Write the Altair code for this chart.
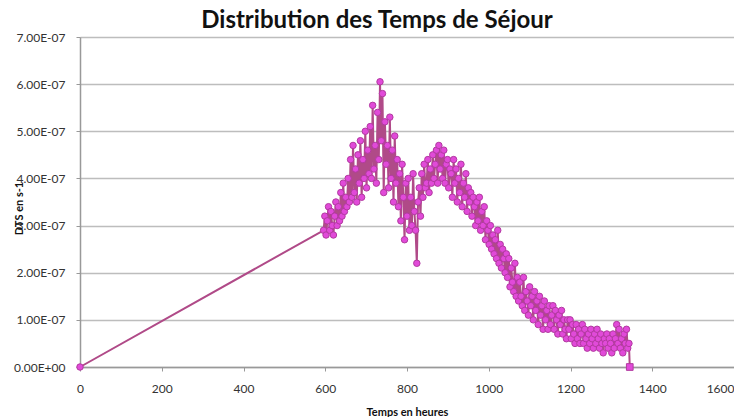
import altair as alt
import pandas as pd

# Temps en heures (x) and DTS in units of 1e-7 s-1 (y)
HOURS = [
    0,
    596, 599, 602, 605, 608, 611, 614, 617, 620, 623,
    626, 629, 632, 635, 638, 641, 644, 647, 650, 653,
    656, 659, 662, 665, 668, 671, 674, 677, 680, 683,
    686, 689, 692, 695, 698, 701, 704, 707, 710, 713,
    716, 719, 722, 725, 728, 731, 734, 737, 740, 743,
    746, 749, 752, 755, 758, 761, 764, 767, 770, 773,
    776, 779, 782, 785, 788, 791, 794, 797, 800, 803,
    806, 809, 812, 815, 818, 821, 824, 827, 830, 833,
    836, 839, 842, 845, 848, 851, 854, 857, 860, 863,
    866, 869, 872, 875, 878, 881, 884, 887, 890, 893,
    896, 899, 902, 905, 908, 911, 914, 917, 920, 923,
    926, 929, 932, 935, 938, 941, 944, 947, 950, 953,
    956, 959, 962, 965, 968, 971, 974, 977, 980, 983,
    986, 989, 992, 995, 998, 1001, 1004, 1007, 1010, 1013,
    1016, 1019, 1022, 1025, 1028, 1031, 1034, 1037, 1040, 1043,
    1046, 1049, 1052, 1055, 1058, 1061, 1064, 1067, 1070, 1073,
    1076, 1079, 1082, 1085, 1088, 1091, 1094, 1097, 1100, 1103,
    1106, 1109, 1112, 1115, 1118, 1121, 1124, 1127, 1130, 1133,
    1136, 1139, 1142, 1145, 1148, 1151, 1154, 1157, 1160, 1163,
    1166, 1169, 1172, 1175, 1178, 1181, 1184, 1187, 1190, 1193,
    1196, 1199, 1202, 1205, 1208, 1211, 1214, 1217, 1220, 1223,
    1226, 1229, 1232, 1235, 1238, 1241, 1244, 1247, 1250, 1253,
    1256, 1259, 1262, 1265, 1268, 1271, 1274, 1277, 1280, 1283,
    1286, 1289, 1292, 1295, 1298, 1301, 1304, 1307, 1310, 1313,
    1316, 1319, 1322, 1325, 1328, 1331, 1334, 1337, 1340, 1343,
    1345,
]

DTS = [
    0.0,
    2.9, 3.2, 2.8, 3.1, 3.4, 2.9, 3.3, 3.0, 2.8, 3.2,
    3.5, 3.0, 3.4, 3.1, 3.7, 3.2, 3.9, 3.3, 3.6, 3.4,
    4.0, 3.5, 4.4, 3.6, 4.7, 3.7, 4.2, 3.5, 4.5, 3.9,
    4.8, 3.6, 4.4, 4.0, 5.0, 3.8, 4.6, 4.1, 5.1, 4.0,
    5.55, 4.2, 4.7, 3.9, 5.4, 4.4, 6.05, 4.8, 5.8, 3.7,
    5.2, 4.3, 4.7, 3.8, 5.3, 4.0, 4.6, 3.5, 4.9, 3.9,
    4.4, 3.4, 4.1, 3.1, 4.3, 3.6, 2.7, 3.9, 3.2, 4.0,
    2.9, 3.6, 3.0, 4.1, 3.3, 2.9, 2.2, 3.5, 3.8, 3.2,
    4.1, 3.6, 4.3, 3.8, 3.9, 4.4, 3.7, 4.2, 3.9, 4.5,
    4.0, 4.3, 4.6, 3.9, 4.7, 4.2, 4.5, 4.0, 4.6, 3.9,
    4.3, 4.4, 3.8, 4.2, 4.1, 3.6, 4.4, 3.9, 4.2, 3.5,
    4.0, 3.7, 4.3, 3.4, 3.9, 3.6, 4.1, 3.3, 3.8, 3.5,
    3.7, 3.2, 3.6, 3.4, 3.0, 3.5, 3.1, 3.6, 2.9, 3.3,
    3.0, 3.4, 2.7, 3.1, 2.9, 2.6, 3.0, 2.5, 2.8, 2.4,
    2.7, 2.3, 2.9, 2.2, 2.6, 2.1, 2.5, 2.3, 2.0, 2.4,
    1.9, 2.3, 1.7, 2.1, 1.8, 1.6, 2.2, 1.5, 1.9, 1.4,
    1.8, 1.5, 1.3, 1.9, 1.2, 1.6, 1.4, 1.1, 1.7, 1.3,
    1.5, 1.0, 1.6, 1.2, 1.4, 0.9, 1.5, 1.1, 1.3, 0.8,
    1.4, 1.0, 1.2, 0.8, 1.3, 0.9, 1.1, 1.3, 0.8, 1.2,
    1.0, 0.7, 1.1, 0.9, 1.2, 0.7, 1.0, 0.8, 0.6, 1.0,
    0.8, 1.0, 0.6, 0.9, 0.7, 0.5, 0.9, 0.6, 0.8, 0.5,
    0.7, 0.9, 0.5, 0.8, 0.6, 0.4, 0.7, 0.5, 0.8, 0.6,
    0.4, 0.7, 0.5, 0.8, 0.6, 0.4, 0.7, 0.5, 0.3, 0.6,
    0.5, 0.7, 0.4, 0.6, 0.5, 0.3, 0.7, 0.4, 0.6, 0.9,
    0.5, 0.8, 0.4, 0.6, 0.3, 0.7, 0.5, 0.8, 0.4, 0.5,
    0.0,
]

X_TICKS = [0, 200, 400, 600, 800, 1000, 1200, 1400, 1600]
Y_TICKS = [0, 1, 2, 3, 4, 5, 6, 7]

df = pd.DataFrame({"h": HOURS, "v": DTS})
LAST_H = HOURS[-1]

FONT = "Lato"

base = alt.Chart(df).encode(
    x=alt.X(
        "h:Q",
        scale=alt.Scale(domain=[0, 1600], nice=False, zero=True),
        axis=alt.Axis(
            values=X_TICKS,
            format="d",
            grid=False,
            labelFlush=False,
            labelOverlap=False,
            labelAlign=alt.expr("datum.value == 1600 ? 'right' : 'center'"),
            tickSize=4,
            tickColor="#999999",
            domainColor="#999999",
            domainWidth=1.5,
            labelFont=FONT,
            labelFontSize=12,
            labelColor="#333333",
            labelPadding=12,
            title="Temps en heures",
            titleFont=FONT,
            titleFontSize=11,
            titleFontWeight="bold",
            titleColor="#111111",
            titlePadding=12,
        ),
    ),
    y=alt.Y(
        "v:Q",
        scale=alt.Scale(domain=[0, 7], nice=False),
        axis=alt.Axis(
            values=Y_TICKS,
            grid=True,
            gridColor="#bdbdbd",
            gridWidth=1.5,
            tickSize=4,
            tickColor="#999999",
            domainColor="#999999",
            domainWidth=1.5,
            labelFont=FONT,
            labelFontSize=12,
            labelColor="#333333",
            labelPadding=11,
            labelExpr="datum.value == 0 ? '0.00E+00' : format(datum.value, '.2f') + 'E-07'",
            title="DTS en s-1",
            titleFont=FONT,
            titleFontSize=11,
            titleFontWeight="bold",
            titleColor="#111111",
            titleX=-61,
            titleY=171,
            titleAlign="center",
            titleBaseline="middle",
        ),
    ),
)

line = base.mark_line(color="#b04a88", strokeWidth=2)
pts = base.transform_filter(f"datum.h < {LAST_H}").mark_point(
    shape="circle", filled=True, size=42, fill="#e14ad9", stroke="#b23aa0",
    strokeWidth=1, opacity=1,
)
sq = base.transform_filter(f"datum.h >= {LAST_H}").mark_point(
    shape="square", filled=True, size=45, fill="#e14ad9", stroke="#b23aa0",
    strokeWidth=1, opacity=1,
)

chart = (
    alt.layer(line, pts, sq)
    .properties(
        width=654,
        height=330,
        title=alt.Title(
            "Distribution des Temps de Séjour",
            font=FONT,
            fontSize=24,
            fontWeight="bold",
            color="#111111",
            anchor="middle",
            dx=-30,
            dy=8,
            offset=6,
        ),
        autosize=alt.AutoSizeParams(type="none"),
        padding={"left": 72, "top": 29, "right": 0, "bottom": 50},
    )
    .configure_view(stroke="#808080", strokeWidth=1.5)
    .configure(background="white")
)

chart.save("out.html", embed_options={"renderer": "svg", "actions": False})
